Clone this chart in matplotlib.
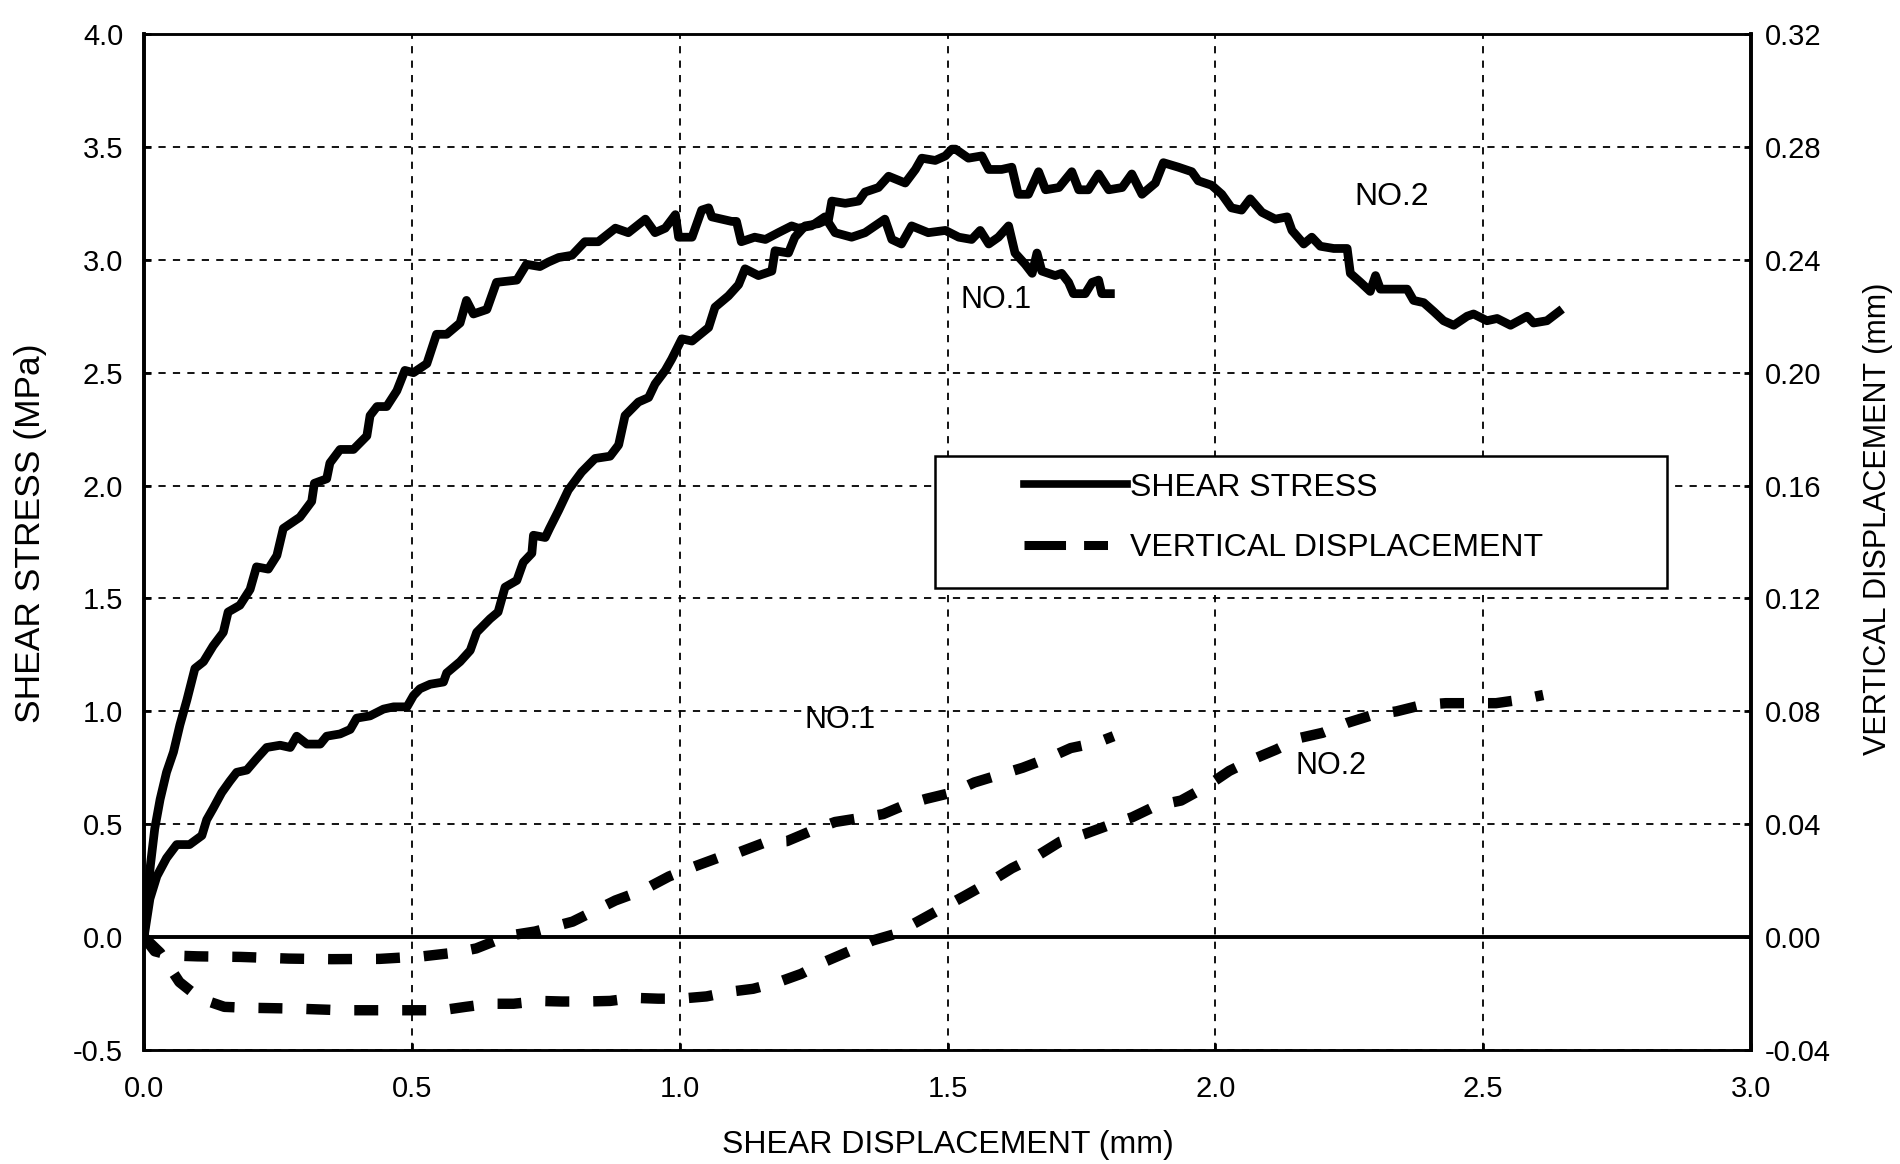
import matplotlib
matplotlib.use("Agg")
import matplotlib.pyplot as plt
from matplotlib.lines import Line2D
from matplotlib.patches import Rectangle

plt.rcParams['font.family'] = ['Liberation Sans', 'DejaVu Sans']
plt.rcParams['axes.unicode_minus'] = False

# ---------------- data ----------------
x_ticks = [0.0, 0.5, 1.0, 1.5, 2.0, 2.5, 3.0]
stress_ticks = [-0.5, 0.0, 0.5, 1.0, 1.5, 2.0, 2.5, 3.0, 3.5, 4.0]
vd_ticks = [-0.04, 0.00, 0.04, 0.08, 0.12, 0.16, 0.20, 0.24, 0.28, 0.32]

stress_no1_x = [0.000, 0.005, 0.012, 0.020, 0.030, 0.042, 0.055, 0.067, 0.080, 0.095,
                0.111, 0.129, 0.148, 0.157, 0.179, 0.198, 0.210, 0.232, 0.248, 0.260,
                0.291, 0.313, 0.318, 0.341, 0.347, 0.366, 0.391, 0.416, 0.422, 0.435,
                0.453, 0.472, 0.487, 0.503, 0.528, 0.546, 0.565, 0.590, 0.602, 0.615,
                0.640, 0.658, 0.696, 0.714, 0.739, 0.755, 0.774, 0.799, 0.823, 0.848,
                0.880, 0.904, 0.936, 0.954, 0.973, 0.992, 0.998, 1.023, 1.041, 1.054,
                1.060, 1.097, 1.106, 1.115, 1.140, 1.160, 1.184, 1.209, 1.221, 1.246,
                1.271, 1.290, 1.321, 1.346, 1.383, 1.396, 1.414, 1.433, 1.464, 1.496,
                1.521, 1.545, 1.561, 1.577, 1.595, 1.614, 1.626, 1.645, 1.658, 1.667,
                1.676, 1.701, 1.713, 1.726, 1.735, 1.757, 1.770, 1.782, 1.788, 1.804]
stress_no1_y = [0.00, 0.15, 0.32, 0.48, 0.61, 0.73, 0.82, 0.94, 1.05, 1.19,
                1.22, 1.29, 1.35, 1.44, 1.47, 1.54, 1.64, 1.63, 1.69, 1.81,
                1.86, 1.93, 2.01, 2.03, 2.10, 2.16, 2.16, 2.22, 2.31, 2.35,
                2.35, 2.42, 2.51, 2.50, 2.54, 2.67, 2.67, 2.72, 2.82, 2.76,
                2.78, 2.90, 2.91, 2.98, 2.97, 2.99, 3.01, 3.02, 3.08, 3.08,
                3.14, 3.12, 3.18, 3.12, 3.14, 3.20, 3.10, 3.10, 3.22, 3.23,
                3.19, 3.17, 3.17, 3.08, 3.10, 3.09, 3.12, 3.15, 3.14, 3.15,
                3.19, 3.12, 3.10, 3.12, 3.18, 3.09, 3.07, 3.15, 3.12, 3.13,
                3.10, 3.09, 3.13, 3.07, 3.10, 3.15, 3.03, 2.98, 2.94, 3.03,
                2.95, 2.93, 2.94, 2.90, 2.85, 2.85, 2.90, 2.91, 2.85, 2.85]

stress_no2_x = [0.000, 0.011, 0.024, 0.042, 0.061, 0.085, 0.108, 0.117, 0.129, 0.145,
                0.160, 0.173, 0.192, 0.210, 0.229, 0.254, 0.273, 0.285, 0.304, 0.329,
                0.341, 0.366, 0.385, 0.397, 0.422, 0.447, 0.466, 0.491, 0.503, 0.515,
                0.534, 0.559, 0.565, 0.590, 0.609, 0.621, 0.646, 0.661, 0.674, 0.696,
                0.708, 0.724, 0.727, 0.749, 0.757, 0.774, 0.792, 0.817, 0.842, 0.870,
                0.886, 0.898, 0.923, 0.942, 0.954, 0.973, 0.985, 1.004, 1.023, 1.054,
                1.066, 1.091, 1.110, 1.122, 1.147, 1.172, 1.178, 1.203, 1.215, 1.234,
                1.259, 1.278, 1.284, 1.309, 1.334, 1.346, 1.371, 1.390, 1.421, 1.440,
                1.452, 1.477, 1.496, 1.508, 1.515, 1.539, 1.564, 1.577, 1.601, 1.620,
                1.632, 1.651, 1.670, 1.683, 1.708, 1.732, 1.745, 1.763, 1.782, 1.801,
                1.826, 1.844, 1.863, 1.888, 1.903, 1.931, 1.956, 1.968, 1.993, 2.012,
                2.030, 2.049, 2.065, 2.087, 2.112, 2.134, 2.143, 2.165, 2.180, 2.196,
                2.221, 2.246, 2.252, 2.271, 2.289, 2.299, 2.308, 2.333, 2.358, 2.370,
                2.389, 2.408, 2.426, 2.445, 2.470, 2.482, 2.507, 2.526, 2.551, 2.582,
                2.594, 2.619, 2.641]
stress_no2_y = [0.00, 0.17, 0.27, 0.35, 0.41, 0.41, 0.45, 0.52, 0.57, 0.64,
                0.69, 0.73, 0.74, 0.79, 0.84, 0.85, 0.84, 0.89, 0.855, 0.855,
                0.89, 0.90, 0.92, 0.97, 0.98, 1.01, 1.02, 1.02, 1.07, 1.10,
                1.12, 1.13, 1.17, 1.22, 1.27, 1.35, 1.41, 1.44, 1.55, 1.58,
                1.66, 1.70, 1.78, 1.77, 1.81, 1.89, 1.98, 2.06, 2.12, 2.13,
                2.18, 2.31, 2.37, 2.39, 2.45, 2.51, 2.56, 2.65, 2.64, 2.70,
                2.79, 2.84, 2.89, 2.96, 2.93, 2.95, 3.04, 3.03, 3.10, 3.15,
                3.16, 3.18, 3.26, 3.25, 3.26, 3.30, 3.32, 3.37, 3.34, 3.40,
                3.45, 3.44, 3.46, 3.49, 3.49, 3.45, 3.46, 3.40, 3.40, 3.41,
                3.29, 3.29, 3.39, 3.31, 3.32, 3.39, 3.31, 3.31, 3.38, 3.31,
                3.32, 3.38, 3.29, 3.34, 3.43, 3.41, 3.39, 3.35, 3.33, 3.29,
                3.23, 3.22, 3.27, 3.21, 3.18, 3.19, 3.13, 3.07, 3.10, 3.06,
                3.05, 3.05, 2.94, 2.90, 2.86, 2.93, 2.87, 2.87, 2.87, 2.82,
                2.81, 2.77, 2.73, 2.71, 2.75, 2.76, 2.73, 2.74, 2.71, 2.75,
                2.72, 2.73, 2.77]

vd_no1_x = [0.00, 0.02, 0.05, 0.10, 0.18, 0.27, 0.35, 0.44, 0.52, 0.58,
            0.62, 0.68, 0.73, 0.80, 0.88, 0.93, 0.98, 1.02, 1.07, 1.11,
            1.16, 1.20, 1.25, 1.29, 1.33, 1.38, 1.42, 1.46, 1.51, 1.55,
            1.60, 1.64, 1.69, 1.73, 1.78, 1.81]
vd_no1_y = [0.0000, -0.0050, -0.0065, -0.0068, -0.0070, -0.0076, -0.0078, -0.0077, -0.0068, -0.0055,
            -0.0040, 0.0005, 0.0020, 0.0055, 0.0130, 0.0165, 0.0215, 0.0245, 0.0280, 0.0300,
            0.0336, 0.0340, 0.0380, 0.0408, 0.0420, 0.0436, 0.0468, 0.0490, 0.0513, 0.0548,
            0.0577, 0.0600, 0.0636, 0.0670, 0.0690, 0.0712]

vd_no2_x = [0.000, 0.030, 0.066, 0.105, 0.150, 0.190, 0.280, 0.370, 0.470, 0.556,
            0.600, 0.644, 0.690, 0.740, 0.780, 0.825, 0.870, 0.914, 0.960, 1.000,
            1.050, 1.095, 1.137, 1.183, 1.227, 1.271, 1.320, 1.360, 1.400, 1.445,
            1.490, 1.530, 1.580, 1.620, 1.670, 1.710, 1.757, 1.800, 1.845, 1.890,
            1.936, 1.980, 2.026, 2.070, 2.114, 2.158, 2.200, 2.246, 2.295, 2.338,
            2.387, 2.430, 2.475, 2.524, 2.568, 2.612]
vd_no2_y = [0.0000, -0.0055, -0.0159, -0.0218, -0.0247, -0.0250, -0.0253, -0.0259, -0.0259, -0.0259,
            -0.0247, -0.0236, -0.0236, -0.0226, -0.0228, -0.0228, -0.0226, -0.0215, -0.0218, -0.0218,
            -0.0210, -0.0193, -0.0183, -0.0160, -0.0130, -0.0087, -0.0047, -0.0012, 0.0010, 0.0056,
            0.0103, 0.0144, 0.0197, 0.0244, 0.0291, 0.0338, 0.0366, 0.0396, 0.0425, 0.0466,
            0.0484, 0.0530, 0.0589, 0.0630, 0.0665, 0.0706, 0.0724, 0.0759, 0.0788, 0.0800,
            0.0823, 0.0829, 0.0829, 0.0829, 0.0841, 0.0858]

legend_labels = ["SHEAR STRESS", "VERTICAL DISPLACEMENT"]

# ---------------- figure ----------------
fig = plt.figure(figsize=(19, 11.64), dpi=100)
ax = fig.add_axes([0.0758, 0.0979, 0.8458, 0.8729])
ax.set_xlim(0, 3.0)
ax.set_ylim(-0.5, 4.0)
ax.set_xticks(x_ticks)
ax.set_yticks(stress_ticks)
ax.set_xticklabels([f"{v:.1f}" for v in x_ticks])
ax.set_yticklabels([f"{v:.1f}" for v in stress_ticks])

ax.grid(True, color='black', linewidth=1.3, linestyle=(0, (4, 4)))
ax.set_axisbelow(True)
ax.axhline(0.0, color='black', linewidth=2.8, zorder=1.5)

ax.plot(stress_no1_x, stress_no1_y, color='black', linewidth=6.3, zorder=3)
ax.plot(stress_no2_x, stress_no2_y, color='black', linewidth=6.3, zorder=3)

ax2 = ax.twinx()
ax2.set_ylim(-0.04, 0.32)
ax2.set_yticks(vd_ticks)
ax2.set_yticklabels([f"{v:.2f}" for v in vd_ticks])
dash_style = (0, (2.3, 2.3))
ax2.plot(vd_no1_x, vd_no1_y, color='black', linewidth=7.5, linestyle=dash_style,
         dash_capstyle='butt')
ax2.plot(vd_no2_x, vd_no2_y, color='black', linewidth=7.5, linestyle=dash_style,
         dash_capstyle='butt')

for a in (ax, ax2):
    for side in ('left', 'right'):
        a.spines[side].set_linewidth(2.6)
    for side in ('top', 'bottom'):
        a.spines[side].set_linewidth(1.8)
    a.spines[:].set_color('black')

ax.tick_params(axis='y', direction='in', length=5, width=2, labelsize=21, pad=15)
ax.tick_params(axis='x', direction='in', length=5, width=2, labelsize=21, pad=18)
ax2.tick_params(axis='y', direction='in', length=5, width=2, labelsize=21, pad=10)

# labels
ax.set_xlabel("SHEAR DISPLACEMENT (mm)", fontsize=23)
ax.xaxis.label.set_va('center')
ax.xaxis.set_label_coords(0.500, -0.093)
ax.set_ylabel("SHEAR STRESS (MPa)", fontsize=25.5)
ax.yaxis.label.set_va('center')
ax.yaxis.set_label_coords(-0.0709, 0.509)
ax2.set_ylabel("VERTICAL DISPLACEMENT (mm)", fontsize=22, rotation=90)
ax2.yaxis.label.set_va('center')
ax2.yaxis.set_label_coords(1.079, 0.523)

# curve annotations
ax.text(2.330, 3.28, "NO.2", fontsize=23, ha='center', va='center')
ax.text(1.591, 2.82, "NO.1", fontsize=22, ha='center', va='center')
ax.text(1.299, 0.961, "NO.1", fontsize=22, ha='center', va='center')
ax.text(2.216, 0.758, "NO.2", fontsize=22, ha='center', va='center')

# legend with a square frame
frame = Rectangle((0.4925, 0.4547), 0.4555, 0.1299, transform=ax2.transAxes,
                  facecolor='white', edgecolor='black', linewidth=1.8, zorder=6)
ax2.add_patch(frame)
handles = [Line2D([], [], color='black', linewidth=5.5),
           Line2D([], [], color='black', linewidth=6.5,
                  linestyle=(0, (4.6, 2.0, 2.65, 6.0)), dash_capstyle='butt')]
leg = ax2.legend(handles, legend_labels, loc='upper left',
                 bbox_to_anchor=(0.5476, 0.5683), bbox_transform=ax2.transAxes,
                 frameon=False, fontsize=23, handlelength=3.22, handletextpad=0.1,
                 labelspacing=0.96, borderpad=0, borderaxespad=0)
leg.set_zorder(7)

fig.savefig("out.png", dpi=100)
